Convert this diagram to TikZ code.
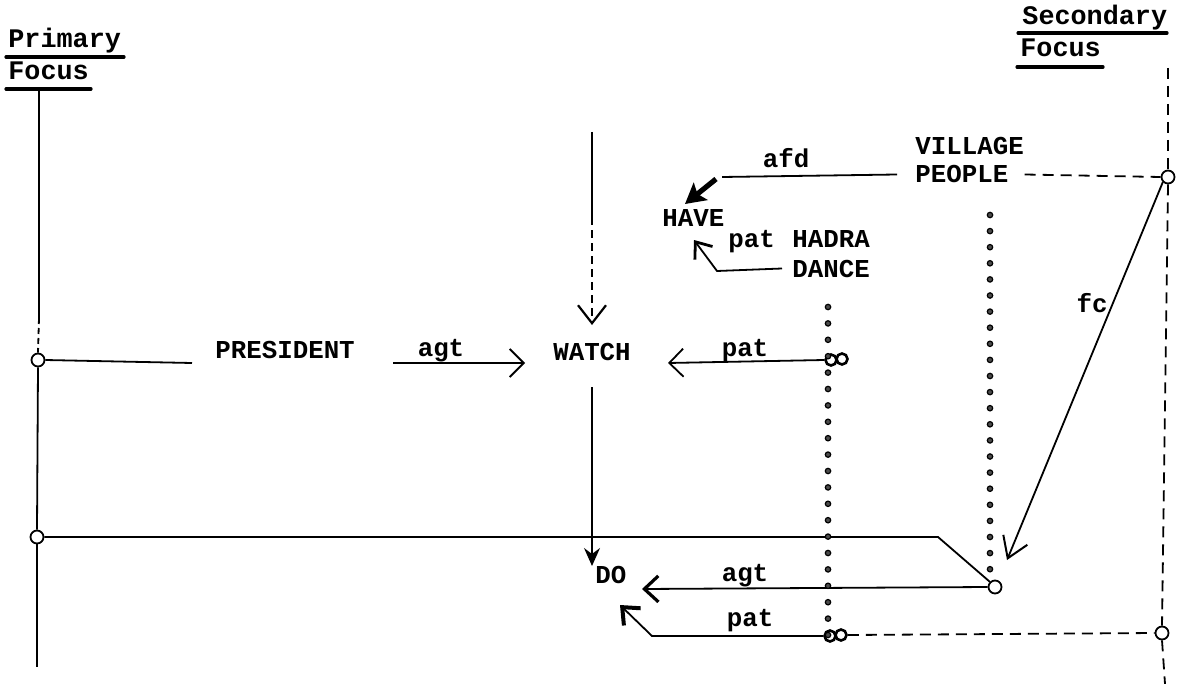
\documentclass[tikz,border=0pt]{standalone}
\usepackage{fontspec}
\setmonofont{Liberation Mono}
\usetikzlibrary{arrows.meta}
\begin{document}
\begin{tikzpicture}[x=0.5pt,y=-0.5pt,
  lbl/.style={font=\ttfamily\bfseries\fontsize{12.9}{14}\selectfont, inner sep=0pt},
  hdr/.style={font=\ttfamily\bfseries\fontsize{13.4}{15}\selectfont, inner sep=0pt, anchor=base west},
  ln/.style={line width=0.9pt},
  uline/.style={line width=1.6pt, line cap=round},
  ring/.style={draw, circle, minimum size=6.5pt, inner sep=0pt, line width=0.9pt},
  sring/.style={draw, circle, minimum size=5.5pt, inner sep=0pt, line width=1.3pt},
  dashln/.style={ln, dash pattern=on 5.5pt off 3.5pt},
  openhead/.style={-{Straight Barb[length=7pt,width=14pt,line width=0.9pt]}},
  boldhead/.style={-{Stealth[length=9pt,width=8pt,inset=3pt]}},
  pdot/.style={draw, fill=black!70, line width=0.6pt}
]
\useasboundingbox (0,0) rectangle (1181,684);

% headers
\node[hdr] (prim) at (8,48) {Primary};
\draw[uline] (6,57) -- (124,57);
\node[hdr] (pfoc) at (8,80) {Focus};
\draw[uline] (6,89) -- (91,89);
\node[hdr] (sec) at (1022,25) {Secondary};
\draw[uline] (1018,33) -- (1167,33);
\node[hdr] (sfoc) at (1020,57) {Focus};
\draw[uline] (1017,67) -- (1103,67);

% left focus line
\node[ring] (c1) at (38,360) {};
\node[ring] (c2) at (37,537) {};
\coordinate (ptop) at (39,89);
\coordinate (pmid) at (39,318);
\coordinate (pbot) at (37,667);
\draw[ln] (ptop) -- (pmid);
\draw[ln, dash pattern=on 3pt off 2pt] (pmid) -- (c1.north);
\draw[ln] (c1.south) -- (c2.north);
\draw[ln] (c2.south) -- (pbot);

% right focus line
\node[ring] (c5) at (1168,177) {};
\node[ring] (c4) at (1162,633) {};
\coordinate (rtop) at (1168,68);
\coordinate (rbot) at (1165,684);
\draw[dashln] (rtop) -- (c5.north);
\draw[dashln] (c5.south) -- (c4.north);
\draw[dashln] (c4.south) -- (rbot);

% row: PRESIDENT agt WATCH pat
\coordinate (preE) at (192,363);
\draw[ln] (c1.east) -- (preE);
\node[lbl, anchor=base west] (pres) at (215,358) {PRESIDENT};
\coordinate (agtA) at (393,363);
\coordinate (agtB) at (525,363);
\draw[ln, openhead] (agtA) -- (agtB);
\node[lbl, anchor=base] (agtl1) at (441,356) {agt};
\node[lbl, anchor=base] (watch) at (592,360) {WATCH};
\node[sring] (d1a) at (831,360) {};
\node[sring] (d1b) at (842,359) {};
\coordinate (patA) at (668,363);
\draw[ln, openhead] (d1a.west) -- (patA);
\node[lbl, anchor=base] (patl1) at (745,356) {pat};

% arrow into WATCH from above
\coordinate (wtop) at (592,132);
\coordinate (wmid) at (592,217);
\coordinate (wtip) at (592,325);
\draw[ln] (wtop) -- (wmid);
\draw[ln, dash pattern=on 4pt off 2.5pt, -{Straight Barb[length=9pt,width=14pt,line width=1.1pt]}] (wmid) -- (wtip);

% WATCH -> DO
\coordinate (wbot) at (592,387);
\coordinate (dotip) at (592,566);
\draw[ln, boldhead] (wbot) -- (dotip);
\node[lbl, anchor=base west] (do) at (595,583) {DO};

% DO line with knee to circle
\node[ring] (c3) at (995,587) {};
\coordinate (knee) at (938,537);
\draw[ln] (c2.east) -- (knee) -- (c3.north west);

% agt to DO
\coordinate (agtC) at (642,589);
\draw[ln, -{Straight Barb[length=7pt,width=13pt,line width=1.6pt]}] (c3.west) -- (agtC);
\node[lbl, anchor=base] (agtl2) at (745,581) {agt};

% pat to DO
\node[sring] (d2a) at (830,636) {};
\node[sring] (d2b) at (841,635) {};
\coordinate (patB) at (652,636);
\coordinate (patTip) at (620,605);
\draw[ln, -{Straight Barb[length=7pt,width=12pt,line width=2pt]}] (d2a.west) -- (patB) -- (patTip);
\node[lbl, anchor=base] (patl2) at (750,626) {pat};
\draw[dashln] (d2b.east) -- (c4.west);

% VILLAGE PEOPLE
\node[lbl, anchor=base west] (vill) at (915,155) {VILLAGE};
\node[lbl, anchor=base west] (peop) at (915,183) {PEOPLE};
\coordinate (afdE) at (722,177);
\draw[ln] ([xshift=-9pt]peop.west) -- (afdE);
\node[lbl, anchor=base] (afdl) at (786,168) {afd};
\coordinate (afdS) at (716,179);
\coordinate (afdT) at (685,204);
\draw[line width=2.6pt, -{Stealth[length=10pt,width=11pt,inset=2pt]}] (afdS) -- (afdT);
\draw[dashln] ([xshift=8pt]peop.east) -- (c5.west);

% HAVE, pat HADRA DANCE
\node[lbl, anchor=base west] (have) at (662,227) {HAVE};
\node[lbl, anchor=base west] (patl3) at (728,247) {pat};
\node[lbl, anchor=base west] (hadra) at (792,247) {HADRA};
\node[lbl, anchor=base west] (dance) at (792,277) {DANCE};
\coordinate (hk) at (717,271);
\coordinate (htip) at (694,240);
\draw[ln, -{Straight Barb[length=7pt,width=11pt,line width=1.4pt]}] ([xshift=-5pt]dance.west) -- (hk) -- (htip);

% fc
\coordinate (fcT) at (1007,560);
\draw[ln, -{Straight Barb[length=10pt,width=13pt,line width=1pt]}] (c5.south west) -- (fcT);
\node[lbl, anchor=base east] (fcl) at (1108,312) {fc};

% dotted lines
\foreach \i in {0,...,20} {
  \draw[pdot] (828,307+16.4*\i) circle (2.7);
}
\foreach \i in {0,...,22} {
  \draw[pdot] (990,215+16.1*\i) circle (2.7);
}
\end{tikzpicture}
\end{document}
